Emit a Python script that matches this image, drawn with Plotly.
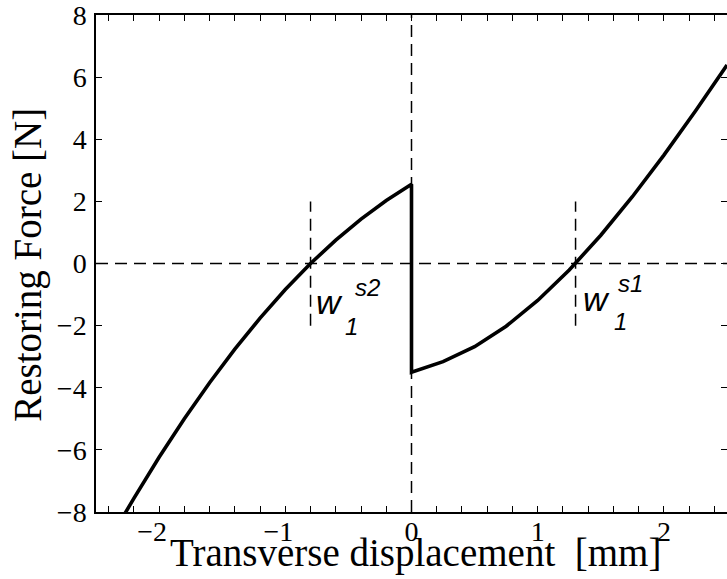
import plotly.graph_objects as go

# Restoring force of the bistable element versus transverse displacement
x_left = [-2.3, -2.2, -2.0, -1.8, -1.6, -1.4, -1.2, -1.0, -0.8, -0.6, -0.4, -0.2, 0.0]
f_left = [-8.25, -7.56, -6.24, -5.0, -3.84, -2.76, -1.76, -0.84, 0.0, 0.75, 1.43, 2.03, 2.55]

x_right = [0.0, 0.25, 0.5, 0.75, 1.0, 1.25, 1.5, 1.75, 2.0, 2.25, 2.5]
f_right = [-3.50, -3.16, -2.68, -2.02, -1.19, -0.21, 0.91, 2.15, 3.49, 4.91, 6.39]

# Stable equilibrium positions (zero crossings) and their marker half-height
w_s2 = -0.8
w_s1 = 1.3
marker_half = 2.0

x_range = [-2.5, 2.5]
y_range = [-8, 8]
x_ticks = [-2, -1, 0, 1, 2]
y_ticks = [-8, -6, -4, -2, 0, 2, 4, 6, 8]

serif = "Liberation Serif"
sans = "Liberation Sans"

fig = go.Figure()
fig.add_trace(go.Scatter(
    x=x_left + x_right, y=f_left + f_right, mode="lines",
    line=dict(color="black", width=3.6), showlegend=False, hoverinfo="skip",
))

dash = dict(color="black", width=1.5, dash="12px,7px")
fig.add_shape(type="line", xref="x", yref="y", x0=x_range[0], x1=x_range[1], y0=0, y1=0, line=dash)
fig.add_shape(type="line", xref="x", yref="y", x0=0, x1=0, y0=y_range[0], y1=y_range[1], line=dash)
for w in (w_s2, w_s1):
    fig.add_shape(type="line", xref="x", yref="y", x0=w, x1=w,
                  y0=-marker_half, y1=marker_half, line=dash)

def label(xw, yw, xsup, ysup, sup, xsub, ysub):
    fig.add_annotation(x=xw, y=yw, xref="x", yref="y", text="<i>w</i>", showarrow=False,
                       font=dict(family=sans, size=34, color="black"), xanchor="center", yanchor="middle")
    fig.add_annotation(x=xsup, y=ysup, xref="x", yref="y", text="<i>" + sup + "</i>", showarrow=False,
                       font=dict(family=sans, size=24, color="black"), xanchor="center", yanchor="middle")
    fig.add_annotation(x=xsub, y=ysub, xref="x", yref="y", text="<i>1</i>", showarrow=False,
                       font=dict(family=sans, size=24, color="black"), xanchor="center", yanchor="middle")

label(-0.652, -1.25, -0.35, -0.76, "s2", -0.474, -2.02)
label(1.469, -1.15, 1.735, -0.64, "s1", 1.660, -1.86)

fig.add_annotation(x=0.507, y=-0.082, xref="paper", yref="paper", text="Transverse displacement  [mm]",
                   showarrow=False, font=dict(family=serif, size=39, color="black"),
                   xanchor="center", yanchor="middle")
fig.add_annotation(x=-0.108, y=0.497, xref="paper", yref="paper", text="Restoring Force [N]",
                   textangle=-90, showarrow=False, font=dict(family=serif, size=39, color="black"),
                   xanchor="center", yanchor="middle")

tick_font = dict(family=serif, size=28, color="black")
tick_style = dict(ticks="inside", ticklen=6, tickwidth=1, tickcolor="black")
fig.update_xaxes(
    range=x_range, tickmode="array", tickvals=x_ticks,
    ticktext=[("\u2212%d\u2002" % -t) if t < 0 else str(t) for t in x_ticks],
    tickfont=tick_font, ticklabelstandoff=-6, ticklabeloverflow="allow",
    minor=dict(dtick=0.2, ticks="inside", ticklen=3, tickcolor="black", tickwidth=1),
    showgrid=False, zeroline=False, showline=True, linecolor="black", linewidth=1.5,
    mirror="allticks", **tick_style,
)
fig.update_layout(
    yaxis=dict(
        range=y_range, tickmode="array", tickvals=y_ticks,
        ticktext=[("\u2212%d" % -t) if t < 0 else str(t) for t in y_ticks],
        tickfont=tick_font, ticklabelstandoff=2, ticklabeloverflow="allow",
        showgrid=False, zeroline=False, showline=True, linecolor="black", linewidth=1.5,
        **tick_style,
    ),
    # right-hand tick marks only, the frame edge falls outside the page
    yaxis2=dict(
        overlaying="y", side="right", anchor="x", range=y_range, tickmode="array",
        tickvals=y_ticks, showticklabels=False, showline=False, showgrid=False,
        zeroline=False, **tick_style,
    ),
)
fig.add_trace(go.Scatter(x=[None], y=[None], yaxis="y2", showlegend=False, hoverinfo="skip"))

fig.update_layout(
    width=727, height=579, margin=dict(l=96, r=0, t=12, b=67),
    plot_bgcolor="white", paper_bgcolor="white",
    font=dict(family=serif, size=28, color="black"),
)

fig.write_html("out.html")
